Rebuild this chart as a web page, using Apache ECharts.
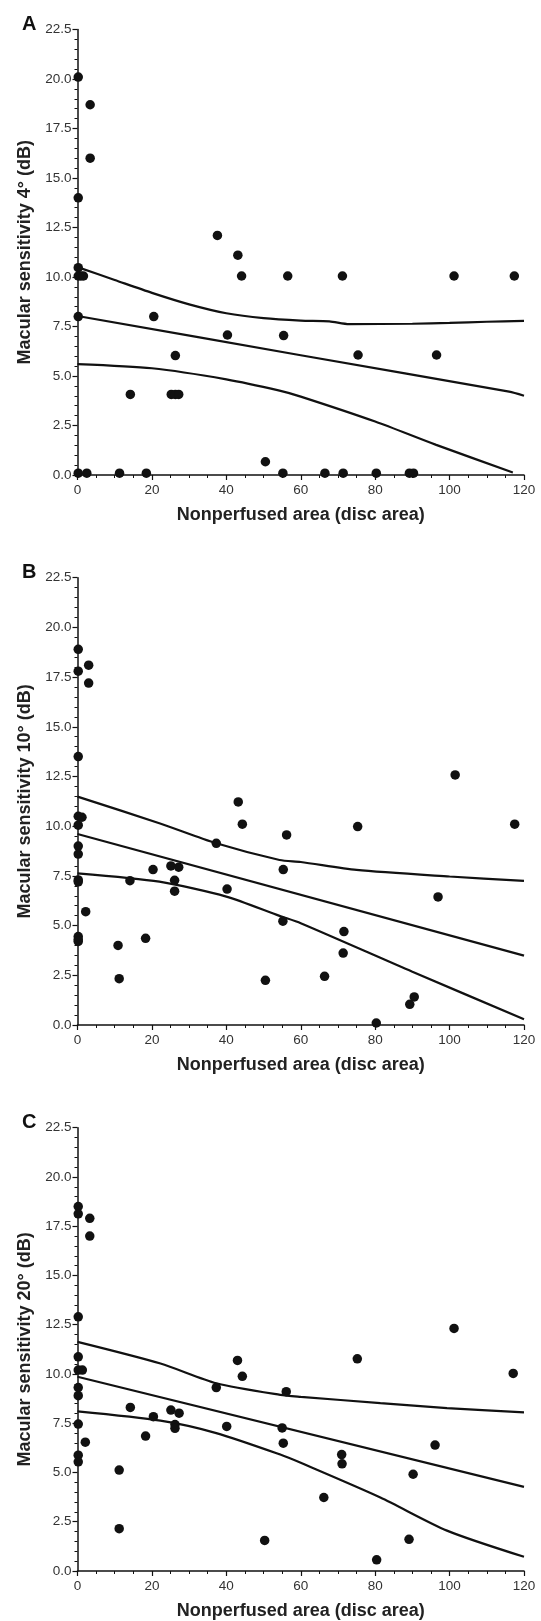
<!DOCTYPE html>
<html>
<head>
<meta charset="utf-8">
<script src="https://cdn.jsdelivr.net/npm/echarts@6/dist/echarts.min.js"></script>
<style>
html,body{margin:0;padding:0;background:#fff;}
#chart{width:541px;height:1621px;}
</style>
</head>
<body>
<div id="chart"></div>
<script>
// ---- Data ----
var panelLetters = ["A", "B", "C"];
var yNames = ["Macular sensitivity 4° (dB)", "Macular sensitivity 10° (dB)", "Macular sensitivity 20° (dB)"];
var xName = "Nonperfused area (disc area)";
var xTicks = [0, 20, 40, 60, 80, 100, 120];
var yTicks = [0, 2.5, 5, 7.5, 10, 12.5, 15, 17.5, 20, 22.5];

var pointsA = [[0.2,20.1],[3.4,18.7],[3.4,16.0],[0.2,14.0],[37.6,12.1],[43.1,11.1],[0.2,10.47],[0.2,10.05],[0.9,10.05],[1.6,10.05],[44.1,10.05],[56.5,10.05],[71.2,10.05],[101.2,10.05],[117.4,10.05],[0.2,8.0],[20.5,8.0],[40.3,7.07],[55.4,7.04],[26.3,6.03],[75.4,6.06],[96.5,6.06],[14.2,4.07],[25.2,4.07],[26.3,4.07],[27.2,4.07],[50.5,0.67],[0.2,0.09],[2.5,0.09],[11.3,0.09],[18.5,0.09],[55.2,0.09],[66.5,0.09],[71.4,0.09],[80.3,0.09],[89.2,0.09],[90.3,0.09]];
var upperA = [[0,10.5],[10,9.85],[20,9.2],[30,8.62],[40,8.17],[50,7.92],[60,7.8],[67.7,7.76],[73,7.62],[90,7.64],[100,7.68],[110,7.74],[120,7.78]];
var fitA = [[0,8.03],[60,6.05],[116,4.21],[120,4.0]];
var lowerA = [[0,5.6],[20,5.39],[40,4.83],[54.3,4.26],[60,3.96],[80,2.7],[96.4,1.52],[117,0.13]];

var pointsB = [[0.2,18.9],[0.2,17.8],[3.0,18.1],[3.0,17.2],[0.2,13.5],[0.2,10.5],[1.2,10.45],[0.2,10.05],[0.2,9.0],[0.2,8.6],[0.2,7.3],[0.2,7.2],[2.2,5.7],[0.2,4.45],[0.2,4.3],[0.2,4.2],[10.9,4.0],[11.2,2.33],[14.1,7.26],[18.3,4.36],[20.3,7.82],[25.1,8.0],[27.2,7.94],[26.1,7.28],[26.1,6.73],[37.3,9.14],[40.2,6.84],[43.2,11.22],[44.3,10.1],[55.3,7.82],[56.2,9.56],[55.2,5.22],[50.5,2.25],[75.3,9.98],[117.5,10.1],[101.5,12.58],[96.9,6.44],[71.6,4.7],[71.4,3.62],[66.4,2.45],[90.5,1.41],[89.3,1.04],[80.3,0.1]];
var upperB = [[0,11.49],[22,10.15],[37.3,9.14],[54.3,8.3],[60,8.2],[75,7.8],[100,7.47],[120,7.25]];
var fitB = [[0,9.61],[120,3.49]];
var lowerB = [[0,7.63],[22,7.21],[40,6.46],[54.3,5.49],[60,5.12],[90,2.68],[120,0.29]];

var pointsC = [[0.2,18.5],[0.2,18.13],[3.3,17.9],[3.3,17.0],[0.2,12.9],[0.2,10.87],[0.2,10.2],[1.3,10.2],[0.2,9.31],[0.2,8.9],[0.2,7.46],[0.2,5.88],[0.2,5.54],[2.1,6.54],[11.2,5.12],[11.2,2.15],[14.2,8.3],[18.3,6.85],[20.4,7.83],[25.1,8.17],[27.3,8.01],[26.2,7.43],[26.2,7.24],[37.3,9.31],[40.1,7.34],[43.0,10.69],[44.3,9.88],[56.1,9.1],[55.0,7.26],[55.3,6.49],[50.3,1.55],[101.2,12.31],[75.2,10.77],[117.1,10.03],[96.1,6.39],[71.0,5.91],[71.1,5.44],[90.2,4.91],[66.2,3.73],[89.1,1.61],[80.4,0.57]];
var upperC = [[0,11.63],[22.3,10.53],[37.3,9.53],[54.5,8.94],[60,8.84],[81.4,8.52],[99.3,8.27],[120,8.05]];
var fitC = [[0,9.86],[120,4.27]];
var lowerC = [[0,8.1],[22.3,7.63],[37.3,7.0],[54.5,5.91],[60,5.49],[81.4,3.73],[99.3,2.05],[120,0.72]];

var panels = [
  {points: pointsA, upper: upperA, fit: fitA, lower: lowerA},
  {points: pointsB, upper: upperB, fit: fitB, lower: lowerB},
  {points: pointsC, upper: upperC, fit: fitC, lower: lowerC}
];

// ---- Layout ----
var FONT = "Arial, 'Liberation Sans', Helvetica, sans-serif";
var gridTops = [29.5, 577.7, 1127.7];
var gridHeights = [445.5, 447.3, 446.3];
var titleTops = [9, 557, 1107];

var grids = [], xAxes = [], yAxes = [], series = [], titles = [];
panels.forEach(function (p, i) {
  grids.push({left: 77.5, width: 446.5, top: gridTops[i], height: gridHeights[i], containLabel: false});
  titles.push({text: panelLetters[i], left: 17, top: titleTops[i],
    textStyle: {fontFamily: FONT, fontSize: 20, fontWeight: 'bold', color: '#111'}});
  xAxes.push({
    type: 'value', gridIndex: i, min: xTicks[0], max: xTicks[xTicks.length - 1],
    interval: xTicks[1] - xTicks[0],
    name: xName, nameLocation: 'middle', nameGap: 31,
    nameTextStyle: {fontFamily: FONT, fontSize: 18, fontWeight: 'bold', color: '#222'},
    axisLine: {show: true, onZero: false, lineStyle: {color: '#111', width: 1.5}},
    axisTick: {show: true, inside: false, length: 5, lineStyle: {color: '#111', width: 1.2}},
    minorTick: {show: true, splitNumber: 4, length: 3, lineStyle: {color: '#111', width: 1}},
    axisLabel: {fontFamily: FONT, fontSize: 13.5, color: '#333', margin: 8},
    splitLine: {show: false}
  });
  yAxes.push({
    type: 'value', gridIndex: i, min: yTicks[0], max: yTicks[yTicks.length - 1],
    interval: yTicks[1] - yTicks[0],
    name: yNames[i], nameLocation: 'middle', nameGap: 42, nameRotate: 90,
    nameTextStyle: {fontFamily: FONT, fontSize: 18, fontWeight: 'bold', color: '#222'},
    axisLine: {show: true, onZero: false, lineStyle: {color: '#111', width: 1.5}},
    axisTick: {show: true, inside: false, length: 5, lineStyle: {color: '#111', width: 1.2}},
    minorTick: {show: true, splitNumber: 5, length: 3, lineStyle: {color: '#111', width: 1}},
    axisLabel: {fontFamily: FONT, fontSize: 13.5, color: '#333', margin: 6,
      formatter: function (v) { return v.toFixed(1); }},
    splitLine: {show: false}
  });
  [p.upper, p.fit, p.lower].forEach(function (d) {
    series.push({
      type: 'line', xAxisIndex: i, yAxisIndex: i, data: d, symbol: 'none',
      smooth: 0.25, clip: false, silent: true,
      lineStyle: {color: '#111', width: 2.2}, z: 2
    });
  });
  series.push({
    type: 'scatter', xAxisIndex: i, yAxisIndex: i, data: p.points,
    symbol: 'circle', symbolSize: 9.5, clip: false,
    itemStyle: {color: '#111', opacity: 1}, z: 3
  });
});

var chart = echarts.init(document.getElementById('chart'), null, {renderer: 'canvas'});
chart.setOption({
  backgroundColor: '#ffffff',
  animation: false,
  title: titles,
  grid: grids,
  xAxis: xAxes,
  yAxis: yAxes,
  series: series
});
</script>
</body>
</html>
